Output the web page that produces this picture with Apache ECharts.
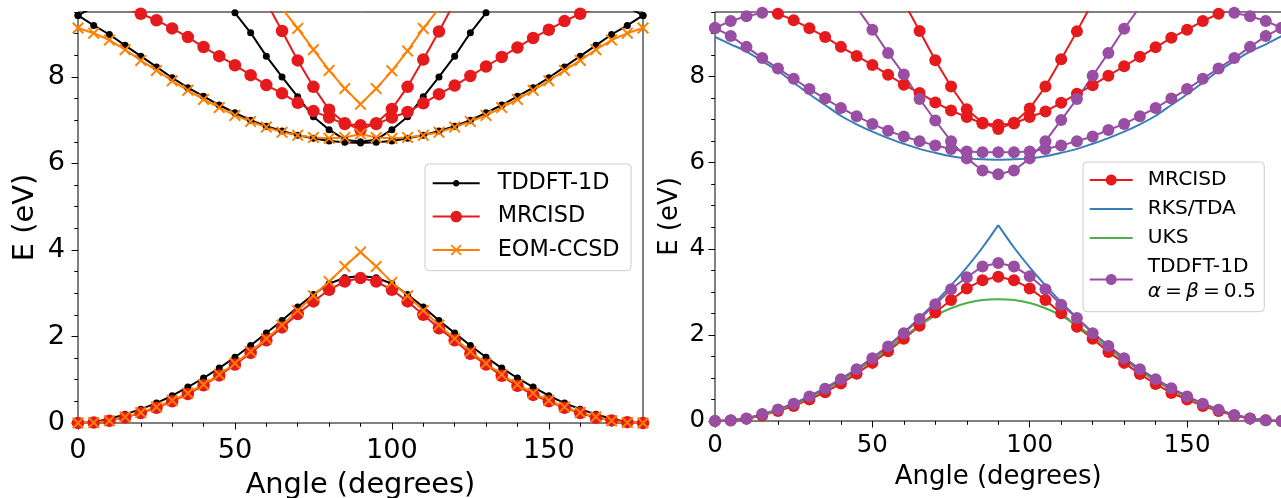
<!DOCTYPE html>
<html><head><meta charset="utf-8">
<script src="https://cdn.jsdelivr.net/npm/echarts@6/dist/echarts.min.js"></script>
<style>html,body{margin:0;padding:0;background:#fff}#c{width:1281px;height:498px}</style>
</head><body><div id="c"></div>
<script>
// ---------- data ----------
const angles = [0,5,10,15,20,25,30,35,40,45,50,55,60,65,70,75,80,85,90,95,100,105,110,115,120,125,130,135,140,145,150,155,160,165,170,175,180];
const xTicks = [0, 50, 100, 150];
const yTicks = [0, 2, 4, 6, 8];

// left panel
const tddftLow  = [0,0.02,0.1,0.2,0.32,0.46,0.63,0.83,1.04,1.27,1.52,1.79,2.08,2.37,2.68,2.97,3.22,3.36,3.4,3.36,3.22,2.97,2.68,2.37,2.08,1.79,1.52,1.27,1.04,0.83,0.63,0.46,0.32,0.2,0.1,0.02,0];
const tddftMid  = [9.42,9.19,8.98,8.73,8.48,8.23,7.98,7.75,7.55,7.35,7.17,7.0,6.86,6.75,6.65,6.58,6.52,6.49,6.47,6.49,6.52,6.58,6.65,6.75,6.86,7.0,7.17,7.35,7.55,7.75,7.98,8.23,8.48,8.73,8.98,9.19,9.42];
const tddftHigh = [9.42,9.62,null,null,null,null,null,null,null,9.95,9.48,9.02,8.48,8.0,7.54,7.08,6.78,6.55,6.5,6.55,6.78,7.08,7.54,8.0,8.48,9.02,9.48,9.95,null,null,null,null,null,null,null,9.62,9.42];

const mrcisdLow  = [0,0.01,0.05,0.13,0.23,0.35,0.5,0.67,0.87,1.1,1.35,1.62,1.91,2.21,2.52,2.81,3.08,3.27,3.35,3.27,3.08,2.81,2.5,2.19,1.91,1.6,1.35,1.09,0.86,0.65,0.5,0.35,0.23,0.12,0.06,0.02,0];
const mrcisdMid  = [null,null,null,9.58,9.46,9.31,9.12,8.92,8.69,8.48,8.27,8.04,7.81,7.62,7.4,7.21,7.06,6.91,6.88,6.91,7.06,7.19,7.39,7.6,7.8,8.02,8.24,8.46,8.68,8.9,9.09,9.29,9.46,9.58,null,null,null];
const mrcisdHigh = [null,null,null,null,null,null,null,null,null,null,null,null,9.73,9.06,8.38,7.77,7.24,6.93,6.78,6.93,7.26,7.77,8.4,9.05,9.73,null,null,null,null,null,null,null,null,null,null,null,null];

const eomLow  = [0,0.01,0.05,0.14,0.24,0.37,0.52,0.69,0.89,1.12,1.38,1.65,1.95,2.26,2.6,2.94,3.27,3.62,3.95,3.62,3.25,2.94,2.6,2.26,1.95,1.65,1.38,1.12,0.89,0.69,0.52,0.37,0.24,0.14,0.05,0.01,0];
const eomMid  = [9.13,9.01,8.85,8.63,8.38,8.15,7.91,7.69,7.48,7.29,7.11,6.97,6.84,6.72,6.65,6.6,6.58,6.6,6.68,6.6,6.58,6.6,6.65,6.72,6.84,6.97,7.11,7.29,7.48,7.69,7.91,8.15,8.38,8.63,8.85,9.01,9.13];
const eomHigh = [null,null,null,null,null,null,null,null,null,null,null,null,null,9.58,9.12,8.63,8.15,7.73,7.37,7.73,8.14,8.6,9.12,9.58,null,null,null,null,null,null,null,null,null,null,null,null,null];

// right panel
const rksLow  = [0,0.02,0.07,0.15,0.27,0.41,0.58,0.77,0.98,1.21,1.47,1.75,2.06,2.4,2.76,3.15,3.57,4.03,4.55,4.03,3.57,3.15,2.76,2.4,2.06,1.75,1.47,1.21,0.98,0.77,0.58,0.41,0.27,0.15,0.07,0.02,0];
const rksHigh = [8.92,8.75,8.58,8.36,8.13,7.86,7.59,7.34,7.09,6.89,6.72,6.57,6.44,6.32,6.23,6.15,6.1,6.08,6.07,6.08,6.1,6.15,6.23,6.32,6.44,6.57,6.72,6.89,7.09,7.34,7.59,7.86,8.13,8.36,8.58,8.75,8.94];
const uksLow  = [0,0.02,0.06,0.14,0.25,0.38,0.54,0.72,0.93,1.16,1.41,1.68,1.96,2.22,2.45,2.62,2.74,2.81,2.83,2.81,2.74,2.62,2.45,2.22,1.96,1.68,1.41,1.16,0.93,0.72,0.54,0.38,0.25,0.14,0.06,0.02,0];
const tdaLow  = [0,0.02,0.06,0.16,0.27,0.4,0.57,0.75,0.97,1.2,1.46,1.73,2.04,2.37,2.71,3.06,3.34,3.59,3.67,3.59,3.36,3.06,2.7,2.39,2.04,1.74,1.46,1.2,0.97,0.76,0.57,0.4,0.26,0.14,0.06,0.02,0];
const tdaMid  = [9.13,8.94,8.69,8.43,8.19,7.95,7.71,7.49,7.27,7.08,6.9,6.74,6.61,6.5,6.4,6.32,6.26,6.24,6.24,6.24,6.26,6.32,6.4,6.5,6.61,6.76,6.9,7.08,7.27,7.49,7.71,7.95,8.19,8.43,8.69,8.94,9.13];
const tdaHigh = [9.13,9.29,9.4,9.48,9.57,null,null,null,null,9.61,9.09,8.55,8.05,7.48,6.98,6.5,6.1,5.82,5.73,5.82,6.1,6.5,6.99,7.48,8.02,8.55,9.11,9.62,null,null,null,null,9.57,9.48,9.4,9.29,9.13];

// ---------- styling ----------
const FONT = 'DejaVu Sans';
const C = {black:'#000000', red:'#e41a1c', orange:'#ff7f00', blue:'#377eb8', green:'#4daf4a', purple:'#984ea3'};
const X_UNIT = 'M0,1.5L1.5,0L6.5,5L11.5,0L13,1.5L8,6.5L13,11.5L11.5,13L6.5,8L1.5,13L0,11.5L5,6.5Z';
const X_SYMBOL = 'path://' + X_UNIT;

function pairs(vals, from, to) {
  const out = angles.map((a, i) => [a, vals[i] == null ? '-' : vals[i]]);
  return (from != null) ? out.slice(from, to) : out;
}
function line(name, data, color, g, opt) {
  return Object.assign({
    type: 'line', name, data, xAxisIndex: g * 2, yAxisIndex: g * 2,
    color, lineStyle: {width: 2, color}, itemStyle: {color},
    symbol: 'circle', symbolSize: 12, showSymbol: true, connectNulls: false,
    clip: true, animation: false, silent: true, z: 2
  }, opt || {});
}
const noSym = {symbol: 'none', showSymbol: false};

// legend icons (line + marker), drawn in a w x h box
function circ(cx, cy, r) {
  let s = '';
  for (let k = 0; k < 32; k++) {
    const t = 2 * Math.PI * k / 32;
    s += (k ? 'L' : 'M') + (cx + r * Math.cos(t)).toFixed(2) + ',' + (cy + r * Math.sin(t)).toFixed(2);
  }
  return s + 'Z';
}
function xmark(cx, cy, s) {
  const k = s / 13;
  return X_UNIT.replace(/(-?\d+\.?\d*),(-?\d+\.?\d*)/g, (m, a, b) =>
    (cx - s / 2 + a * k).toFixed(2) + ',' + (cy - s / 2 + b * k).toFixed(2));
}
function icon(w, h, marker, size) {
  let p = 'M0,0M' + w + ',' + h;
  p += 'M0,' + (h / 2 - 1) + 'L' + w + ',' + (h / 2 - 1) + 'L' + w + ',' + (h / 2 + 1) + 'L0,' + (h / 2 + 1) + 'Z';
  if (marker === 'dot') p += circ(w / 2, h / 2, size / 2);
  if (marker === 'x') p += xmark(w / 2, h / 2, size);
  return 'path://' + p;
}

function axesX(g, fs, margin, nameGap) {
  return [
    {gridIndex: g, type: 'value', min: 0, max: 180, interval: 50, position: 'bottom',
     axisLine: {show: false}, splitLine: {show: false},
     axisTick: {show: true, length: 6.5, lineStyle: {color: '#000', width: 1}},
     axisLabel: {show: true, showMaxLabel: false, margin, color: '#000', fontFamily: FONT, fontSize: fs,
                 formatter: v => xTicks.includes(v) ? String(v) : ''},
     name: 'Angle (degrees)', nameLocation: 'middle', nameGap,
     nameTextStyle: {color: '#000', fontFamily: FONT, fontSize: fs * 1.06}},
    {gridIndex: g, type: 'value', min: 0, max: 180, interval: 10, position: 'bottom',
     axisLine: {show: false}, splitLine: {show: false}, axisLabel: {show: false},
     axisTick: {show: true, length: 3.8, lineStyle: {color: '#000', width: 1}}}
  ];
}
function axesY(g, fs, margin, nameGap) {
  return [
    {gridIndex: g, type: 'value', min: 0, max: 9.5, interval: 2, position: 'left',
     axisLine: {show: false}, splitLine: {show: false},
     axisTick: {show: true, length: 6.5, lineStyle: {color: '#000', width: 1}},
     axisLabel: {show: true, showMaxLabel: false, margin, color: '#000', fontFamily: FONT, fontSize: fs,
                 padding: [6, 0, 0, 0],
                 formatter: v => yTicks.includes(v) ? String(v) : ''},
     name: 'E (eV)', nameLocation: 'middle', nameGap, nameRotate: 90,
     nameTextStyle: {color: '#000', fontFamily: FONT, fontSize: fs * 1.06}},
    {gridIndex: g, type: 'value', min: 0, max: 9.5, interval: 0.5, position: 'left',
     axisLine: {show: false}, splitLine: {show: false}, axisLabel: {show: false},
     axisTick: {show: true, length: 3.8, lineStyle: {color: '#000', width: 1}}}
  ];
}

const series = [
  // left
  line('TDDFT-1D', pairs(tddftLow),  C.black, 0, {symbolSize: 7}),
  line('TDDFT-1D', pairs(tddftMid),  C.black, 0, {symbolSize: 7}),
  line('TDDFT-1D', pairs(tddftHigh), C.black, 0, {symbolSize: 7}),
  line('MRCISD', pairs(mrcisdLow),  C.red, 0, {symbolSize: 12.5}),
  line('MRCISD', pairs(mrcisdMid),  C.red, 0, {symbolSize: 12.5}),
  line('MRCISD', pairs(mrcisdHigh), C.red, 0, {symbolSize: 12.5}),
  line('EOM-CCSD', pairs(eomLow),  C.orange, 0, {symbol: X_SYMBOL, symbolSize: 12}),
  line('EOM-CCSD', pairs(eomMid),  C.orange, 0, {symbol: X_SYMBOL, symbolSize: 12}),
  line('EOM-CCSD', pairs(eomHigh), C.orange, 0, {symbol: X_SYMBOL, symbolSize: 12}),
  // right
  line('MRCISD', pairs(mrcisdLow),  C.red, 1, {symbolSize: 12}),
  line('MRCISD', pairs(mrcisdMid),  C.red, 1, {symbolSize: 12}),
  line('MRCISD', pairs(mrcisdHigh), C.red, 1, {symbolSize: 12}),
  line('RKS/TDA', pairs(rksLow, 0, 19),  C.blue, 1, Object.assign({smooth: 0.3}, noSym)),
  line('RKS/TDA', pairs(rksLow, 18, 37), C.blue, 1, Object.assign({smooth: 0.3}, noSym)),
  line('RKS/TDA', pairs(rksHigh),        C.blue, 1, Object.assign({smooth: 0.3}, noSym)),
  line('UKS', pairs(uksLow), C.green, 1, Object.assign({smooth: 0.3}, noSym)),
  line('TDDFT-1D a', pairs(tdaLow),  C.purple, 1, {symbolSize: 12}),
  line('TDDFT-1D a', pairs(tdaMid),  C.purple, 1, {symbolSize: 12}),
  line('TDDFT-1D a', pairs(tdaHigh), C.purple, 1, {symbolSize: 12})
];

const legendBase = {
  orient: 'vertical', selectedMode: false,
  backgroundColor: 'rgba(255,255,255,0.8)', borderColor: '#cccccc', borderWidth: 1, borderRadius: 4,
  itemStyle: {borderWidth: 0}, lineStyle: {width: 0}, symbolKeepAspect: true
};
const TS = '\u2009';

const option = {
  backgroundColor: '#ffffff',
  animation: false,
  grid: [
    {left: 78, top: 12, width: 565, height: 411, show: true, borderColor: '#000', borderWidth: 1,
     backgroundColor: 'transparent', containLabel: false, outerBoundsMode: 'none'},
    {left: 715, top: 12, width: 566.5, height: 409, show: true, borderColor: '#000', borderWidth: 1,
     backgroundColor: 'transparent', containLabel: false, outerBoundsMode: 'none'}
  ],
  xAxis: [].concat(axesX(0, 27.2, 14, 48), axesX(1, 24.5, 12.5, 43)),
  yAxis: [].concat(axesY(0, 27.2, 13, 38), axesY(1, 24.5, 10, 32)),
  legend: [
    Object.assign({}, legendBase, {
      left: 425, top: 164, itemWidth: 47, itemHeight: 14, itemGap: 5.3,
      padding: [5.3, 11.5, 6.8, 7.7],
      data: [
        {name: 'TDDFT-1D', icon: icon(47, 14, 'dot', 6.5)},
        {name: 'MRCISD', icon: icon(47, 14, 'dot', 11.5)},
        {name: 'EOM-CCSD', icon: icon(47, 14, 'x', 11)}
      ],
      textStyle: {color: '#000', fontFamily: FONT, fontSize: 22.4, lineHeight: 28, padding: [0, 0, 0, 13]}
    }),
    Object.assign({}, legendBase, {
      left: 1083, top: 162, itemWidth: 43, itemHeight: 12, itemGap: 4,
      padding: [5.5, 8.3, 7.2, 6.7],
      data: [
        {name: 'MRCISD', icon: icon(43, 12, 'dot', 11)},
        {name: 'RKS/TDA', icon: icon(43, 12, 'none', 0)},
        {name: 'UKS', icon: icon(43, 12, 'none', 0)},
        {name: 'TDDFT-1D a', icon: icon(43, 12, 'dot', 11)}
      ],
      formatter: n => n === 'TDDFT-1D a'
        ? '{t|TDDFT-1D}\n{i|α}{t|' + TS + '=' + TS + '}{i|β}{t|' + TS + '=' + TS + '0.5}'
        : '{t|' + n + '}',
      textStyle: {color: '#000', fontFamily: FONT, fontSize: 20.2, lineHeight: 25, padding: [0, 0, 0, 10],
        rich: {
          t: {color: '#000', fontFamily: FONT, fontSize: 20.2, lineHeight: 25},
          i: {color: '#000', fontFamily: FONT, fontSize: 20.2, lineHeight: 25, fontStyle: 'italic'}
        }}
    })
  ],
  series
};

const chart = echarts.init(document.getElementById('c'), null, {renderer: 'canvas'});
chart.setOption(option);
</script>
</body></html>
